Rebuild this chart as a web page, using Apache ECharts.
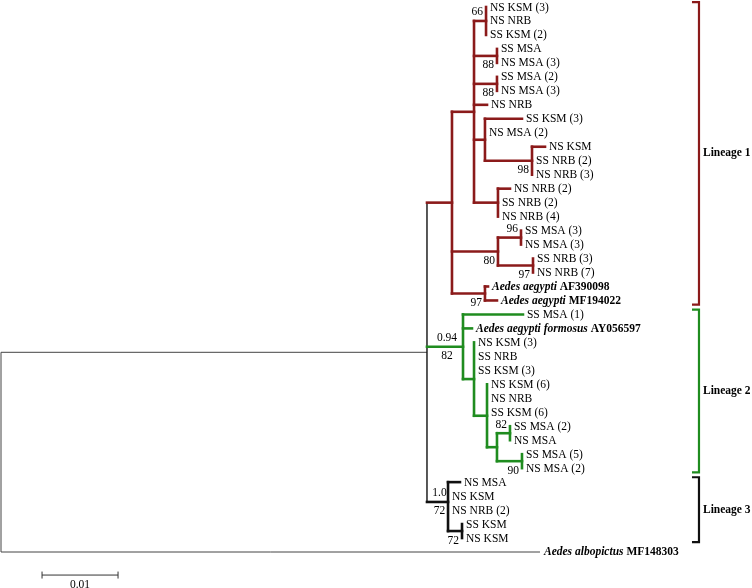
<!DOCTYPE html>
<html><head><meta charset="utf-8">
<script src="https://cdn.jsdelivr.net/npm/echarts@6/dist/echarts.min.js"></script>
<style>html,body{margin:0;padding:0;background:#fff}#c{width:752px;height:588px}</style>
</head><body><div id="c"></div>
<script>
// ---------- DATA ----------
// Internal nodes of the tree (depth = distance from root, substitutions/site)
const internalNames   = ['root','ingroup','L1','A','n66','n88a','n88b','B','n98','nNRB','C','n96','n97','D','L2','S1','S2','S3','n82','n90','L3','S4'];
const internalParents = [null,'root','ingroup','L1','A','A','A','A','B','A','L1','C','C','L1','ingroup','L2','S1','S2','S3','S3','ingroup','L3'];
const internalDepths  = [0,0.05605,0.05934,0.06224,0.06382,0.06526,0.06526,0.06368,0.06987,0.06539,0.06539,0.06842,0.07,0.06368,0.06079,0.06224,0.06395,0.06526,0.06697,0.06855,0.05882,0.06066];
const internalLineage = [0,0,1,1,1,1,1,1,1,1,1,1,1,1,2,2,2,2,2,2,3,3];
const nodeRowOverrides = { L3: 35.42 };

// Leaves, top to bottom ('|' separates italic species name from accession)
const leafLabels = ['NS KSM (3)','NS NRB','SS KSM (2)','SS MSA','NS MSA (3)','SS MSA (2)','NS MSA (3)','NS NRB','SS KSM (3)','NS MSA (2)',
  'NS KSM','SS NRB (2)','NS NRB (3)','NS NRB (2)','SS NRB (2)','NS NRB (4)','SS MSA (3)','NS MSA (3)','SS NRB (3)','NS NRB (7)',
  'Aedes aegypti|AF390098','Aedes aegypti|MF194022','SS MSA (1)','Aedes aegypti formosus|AY056597','NS KSM (3)','SS NRB','SS KSM (3)','NS KSM (6)','NS NRB','SS KSM (6)',
  'SS MSA (2)','NS MSA','SS MSA (5)','NS MSA (2)','NS MSA','NS KSM','NS NRB (2)','SS KSM','NS KSM','Aedes albopictus|MF148303'];
const leafParents = ['n66','n66','n66','n88a','n88a','n88b','n88b','A','B','B',
  'n98','n98','n98','nNRB','nNRB','nNRB','n96','n96','n97','n97',
  'D','D','L2','L2','S1','S1','S1','S2','S2','S2',
  'n82','n82','n90','n90','L3','L3','L3','S4','S4','root'];
const leafDepths = [0.06382,0.06382,0.06382,0.06526,0.06526,0.06526,0.06526,0.06395,0.06855,0.06368,
  0.07158,0.06987,0.06987,0.06697,0.06539,0.06539,0.06842,0.06842,0.07,0.07,
  0.06408,0.06526,0.06868,0.06197,0.06224,0.06224,0.06224,0.06395,0.06395,0.06395,
  0.06697,0.06697,0.06855,0.06855,0.06039,0.05882,0.05882,0.06066,0.06066,0.07092];

// Support values at nodes
const supportNodes  = ['n66','n88a','n88b','n98','n96','n97','C','D','L2','L2','n82','n90','L3','L3','S4'];
const supportValues = ['66','88','88','98','96','97','80','97','0.94','82','82','90','1.0','72','72'];
const supportSides  = ['above','below','below','below','above','below','below','below','above','below','above','below','above','below','below'];

// Lineage brackets
const lineageNames    = ['Lineage 1','Lineage 2','Lineage 3'];
const lineageFirstRow = [0,22,34];
const lineageLastRow  = [21,33,38];

// Scale bar
const scaleBarLength = 0.01;
const scaleBarLabel  = '0.01';

// ---------- BUILD TREE ----------
const nodes = [];
const byName = {};
internalNames.forEach((n,i)=>{
  const o = {name:n, parent:internalParents[i], depth:internalDepths[i], lineage:internalLineage[i], leaf:false, children:[]};
  nodes.push(o); byName[n]=o;
});
leafLabels.forEach((l,i)=>{
  const o = {name:'leaf'+i, label:l, parent:leafParents[i], depth:leafDepths[i], leaf:true, row:i, children:[]};
  nodes.push(o); byName[o.name]=o;
});
nodes.forEach(n=>{ if(n.parent){ byName[n.parent].children.push(n); } });
nodes.forEach(n=>{ if(n.leaf){ n.lineage = byName[n.parent].lineage; } });
function rowOf(n){
  if (n.leaf) return n.row;
  const rs = n.children.map(rowOf);
  n.minRow = Math.min(...rs); n.maxRow = Math.max(...rs);
  n.row = (nodeRowOverrides[n.name] !== undefined) ? nodeRowOverrides[n.name] : (n.minRow+n.maxRow)/2;
  return n.row;
}
rowOf(byName['root']);

// ---------- STYLE ----------
const FONT = '"Liberation Serif","Times New Roman",serif';
const FS = 11.5;
const lineageColors = ['#3a3a3a','#8b1a1a','#1f8c1f','#111111'];
const lineageWidths = [1,2.6,2.6,2.6];
const BRACKET_X = 0.09184;

const chart = echarts.init(document.getElementById('c'), null, {renderer:'canvas'});

const option = {
  animation:false,
  backgroundColor:'#fff',
  grid:{left:1, right:6.2, top:7, bottom:36},
  xAxis:{type:'value', min:0, max:0.098, show:false},
  yAxis:{type:'value', min:0, max:39, inverse:true, show:false},
  series:[
    { // branches
      type:'custom', coordinateSystem:'cartesian2d', silent:true,
      data: nodes.map((n,i)=>[n.depth, n.row, i]),
      renderItem:function(params, api){
        const n = nodes[api.value(2)];
        const els = [];
        const color = lineageColors[n.lineage];
        const w = lineageWidths[n.lineage];
        const p = api.coord([n.depth, n.row]);
        if (n.parent){
          const par = byName[n.parent];
          const pp = api.coord([par.depth, n.row]);
          if (Math.abs(p[0]-pp[0])>0.5){
            const thin = (n.name==='ingroup' || n.name==='leaf39');
            const pw = thin ? 1 : w;
            const pc = thin ? '#444' : color;
            els.push({type:'line', shape:{x1:pp[0], y1:p[1], x2:p[0], y2:p[1]}, style:{stroke:pc, lineWidth:pw, lineCap: pw>1?'square':'butt'}});
          }
        }
        if (!n.leaf){
          const t = api.coord([n.depth, n.minRow]);
          const b = api.coord([n.depth, n.maxRow]);
          let vc = color, vw = w;
          if (n.name==='root'){ vc='#444'; vw=1; }
          if (n.name==='ingroup'){ vc='#111'; vw=1.4; }
          els.push({type:'line', shape:{x1:t[0], y1:t[1], x2:b[0], y2:b[1]}, style:{stroke:vc, lineWidth:vw, lineCap: vw>1.5?'square':'butt'}});
        }
        return {type:'group', children:els};
      }
    },
    { // leaf labels
      type:'custom', coordinateSystem:'cartesian2d', silent:true,
      data: nodes.filter(n=>n.leaf).map(n=>[n.depth, n.row, nodes.indexOf(n)]),
      renderItem:function(params, api){
        const n = nodes[api.value(2)];
        const p = api.coord([n.depth, n.row]);
        let text = n.label, rich;
        if (text.indexOf('|')>=0){
          const parts = text.split('|');
          text = '{i|'+parts[0]+'} {b|'+parts[1]+'}';
          rich = {
            i:{fontFamily:FONT, fontSize:FS, fontStyle:'italic', fontWeight:'bold', fill:'#000'},
            b:{fontFamily:FONT, fontSize:FS, fontWeight:'bold', fill:'#000'}
          };
        }
        return {type:'text', style:{text:text, rich:rich, x:p[0]+4, y:p[1]+0.5, fill:'#000',
          font: FS+'px '+FONT, align:'left', verticalAlign:'middle'}};
      }
    },
    { // support values
      type:'custom', coordinateSystem:'cartesian2d', silent:true,
      data: supportNodes.map((s,i)=>[byName[s].depth, byName[s].row, i]),
      renderItem:function(params, api){
        const i = api.value(2);
        const n = byName[supportNodes[i]];
        const p = api.coord([n.depth, n.row]);
        const dbl = supportNodes.filter(s=>s===supportNodes[i]).length>1;
        const dy = supportSides[i]==='above' ? -8.5 : 9.5;
        let x, align;
        if (dbl){
          const pp = api.coord([byName[n.parent].depth, n.row]);
          x = (pp[0]+p[0])/2 + 2; align='center';
        } else { x = p[0]-3; align='right'; }
        return {type:'text', style:{text:supportValues[i], x:x, y:p[1]+dy, fill:'#000',
          font: FS+'px '+FONT, align:align, verticalAlign:'middle'}};
      }
    },
    { // lineage brackets
      type:'custom', coordinateSystem:'cartesian2d', silent:true,
      data: lineageNames.map((l,i)=>[BRACKET_X, lineageFirstRow[i]-0.35, lineageLastRow[i]+0.3, i]),
      renderItem:function(params, api){
        const i = api.value(3);
        const t = api.coord([api.value(0), api.value(1)]);
        const b = api.coord([api.value(0), api.value(2)]);
        const c = lineageColors[i+1];
        const st = {stroke:c, lineWidth:2.2, lineJoin:'miter', fill:null};
        return {type:'group', children:[
          {type:'polyline', shape:{points:[[t[0]-7,t[1]],[t[0],t[1]],[b[0],b[1]],[b[0]-7,b[1]]]}, style:st},
          {type:'text', style:{text:lineageNames[i], x:t[0]+4, y:(t[1]+b[1])/2, fill:'#000',
            font:'bold '+FS+'px '+FONT, align:'left', verticalAlign:'middle'}}
        ]};
      }
    },
    { // scale bar
      type:'custom', coordinateSystem:'cartesian2d', silent:true,
      data:[[0.0054, 40.65, scaleBarLength]],
      renderItem:function(params, api){
        const a = api.coord([api.value(0), api.value(1)]);
        const b = api.coord([api.value(0)+api.value(2), api.value(1)]);
        const st = {stroke:'#333', lineWidth:1};
        return {type:'group', children:[
          {type:'line', shape:{x1:a[0],y1:a[1],x2:b[0],y2:b[1]}, style:st},
          {type:'line', shape:{x1:a[0],y1:a[1]-3.5,x2:a[0],y2:a[1]+3.5}, style:st},
          {type:'line', shape:{x1:b[0],y1:b[1]-3.5,x2:b[0],y2:b[1]+3.5}, style:st},
          {type:'text', style:{text:scaleBarLabel, x:(a[0]+b[0])/2, y:a[1]+9.5, fill:'#000',
            font:FS+'px '+FONT, align:'center', verticalAlign:'middle'}}
        ]};
      }
    }
  ]
};
chart.setOption(option);
</script>
</body></html>
